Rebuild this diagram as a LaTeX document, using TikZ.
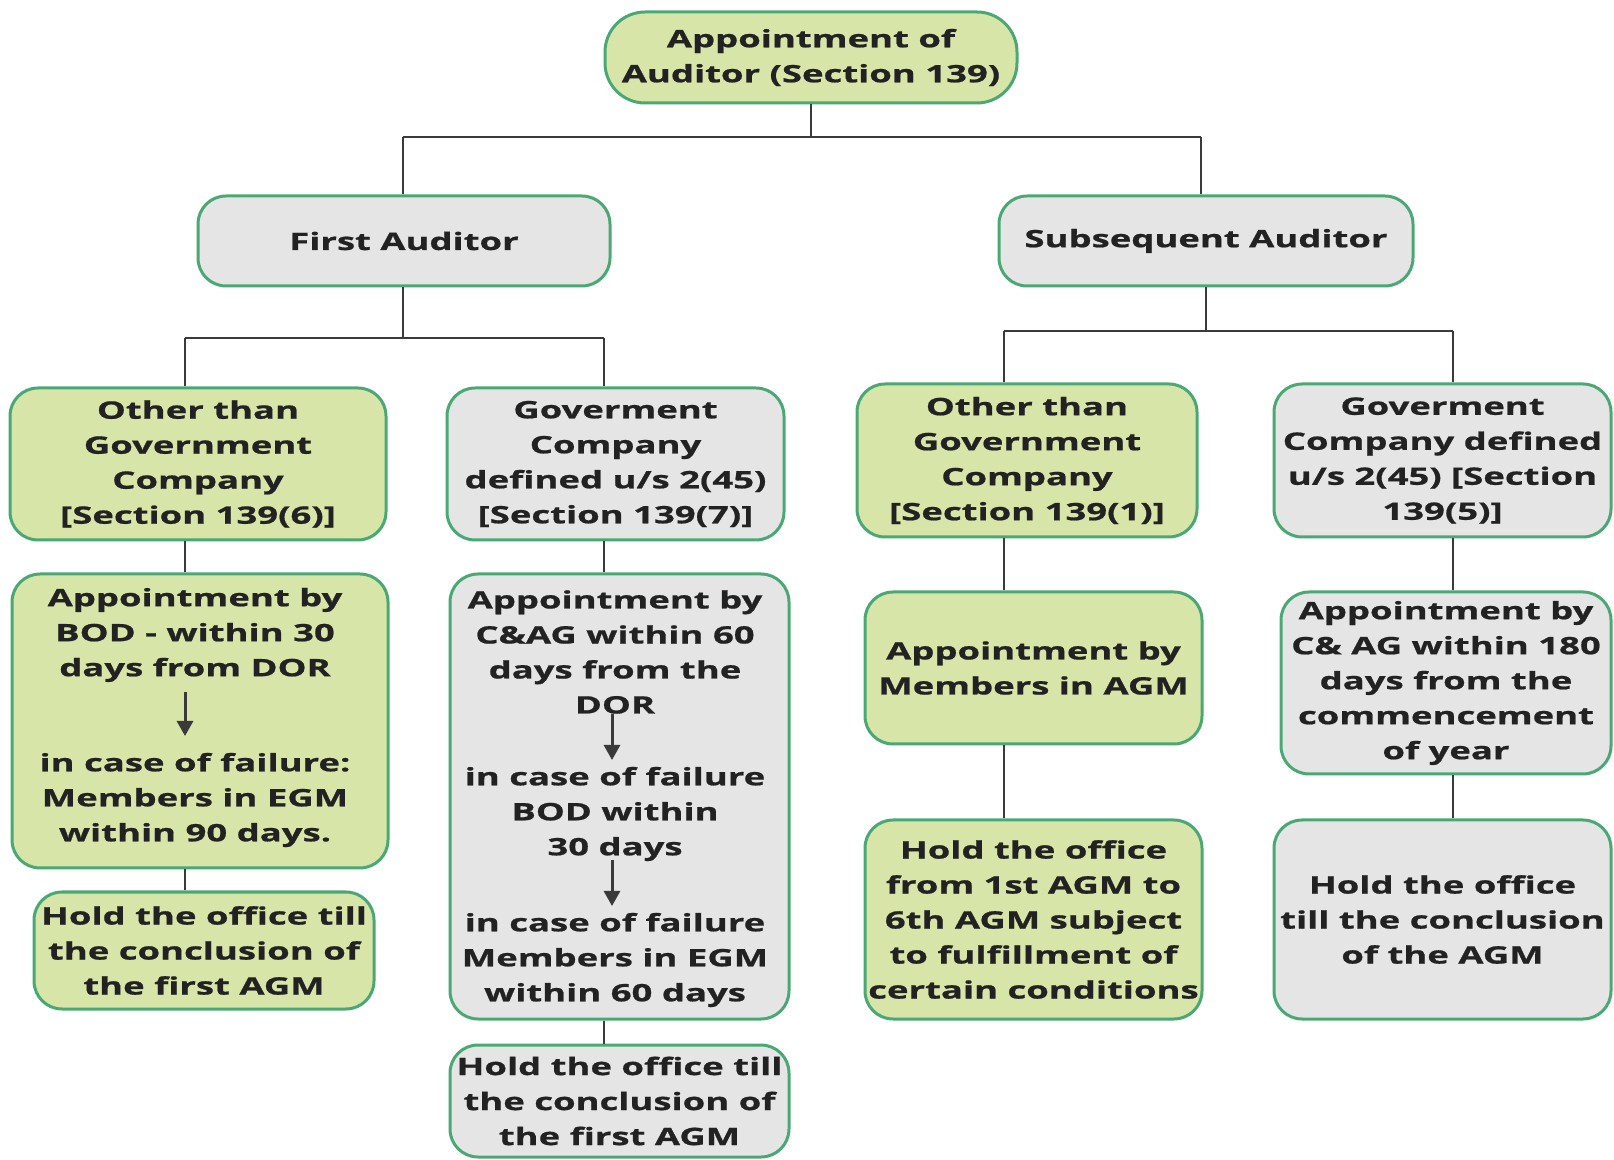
\documentclass[tikz,border=0pt]{standalone}
\usepackage{fontspec}
\setmainfont{Open Sans}[FakeStretch=1.52, BoldFeatures={FakeBold=0.8}]
\usetikzlibrary{arrows.meta}
\definecolor{gfill}{HTML}{D7E5A9}
\definecolor{hfill}{HTML}{E5E5E5}
\definecolor{bord}{HTML}{4AA874}
\definecolor{txt}{HTML}{222222}
\definecolor{lin}{HTML}{3A3A3A}
\begin{document}
\begin{tikzpicture}[x=0.5pt,y=-0.5pt,
 tfont/.style={font=\fontsize{12}{17.5}\selectfont\bfseries},
 box/.style={draw=bord, line width=1.5pt, rounded corners=14pt, inner sep=0pt, align=center, text=txt, tfont},
 gbox/.style={box, fill=gfill},
 hbox/.style={box, fill=hfill},
 txtn/.style={inner sep=0pt, align=center, text=txt, tfont},
 conn/.style={draw=lin, line width=1.4pt},
 arr/.style={draw=lin, line width=1.5pt, -{Triangle[length=7.5pt,width=8pt]}}]
\fill[white] (0,0) rectangle (1614,1160);
\useasboundingbox (0,0) rectangle (1614,1160);

% top
\node[gbox, rounded corners=20pt, minimum width=206pt, minimum height=45.5pt] (top) at (811,57.5) {Appointment of\\Auditor (Section 139)};
\node[hbox, minimum width=206pt, minimum height=45pt] (FA) at (404,241) {First Auditor};
\node[hbox, minimum width=207pt, minimum height=45pt] (SA) at (1206,241) {Subsequent Auditor};

% row 2
\node[gbox, minimum width=188pt, minimum height=76pt] (A) at (198,464) {Other than\\Government\\Company\\{[}Section 139(6)]};
\node[hbox, minimum width=168.5pt, minimum height=76pt] (B) at (615.5,464) {Goverment\\Company\\defined u/s 2(45)\\{[}Section 139(7)]};
\node[gbox, minimum width=170pt, minimum height=76.5pt] (C) at (1027,460.5) {Other than\\Government\\Company\\{[}Section 139(1)]};
\node[hbox, minimum width=168.5pt, minimum height=76.5pt] (D) at (1442.5,460.5) {Goverment\\Company defined\\u/s 2(45) [Section\\139(5)]};

% row 3
\node[gbox, minimum width=188pt, minimum height=147pt] (A2) at (200,721) {};
\node[txtn] (A2a) at (195,635) {Appointment by\\BOD - within 30\\days from DOR};
\node[txtn] (A2b) at (195,800) {in case of failure:\\Members in EGM\\within 90 days.};
\node[hbox, minimum width=169.5pt, minimum height=222.5pt] (B2) at (619.5,796.5) {};
\node[txtn] (B2a) at (615,652) {Appointment by\\C\&AG within 60\\days from the\\DOR};
\node[txtn] (B2b) at (615,814) {in case of failure\\BOD within\\30 days};
\node[txtn] (B2c) at (615,960) {in case of failure\\Members in EGM\\within 60 days};
\node[gbox, minimum width=168.5pt, minimum height=76pt] (C2) at (1033.5,668) {Appointment by\\Members in AGM};
\node[hbox, minimum width=165pt, minimum height=91pt] (D2) at (1446,683) {Appointment by\\C\& AG within 180\\days from the\\commencement\\of year};

% row 4
\node[gbox, minimum width=170pt, minimum height=58.5pt] (A3) at (204,950.5) {Hold the office till\\the conclusion of\\the first AGM};
\node[hbox, minimum width=169.5pt, minimum height=56pt] (B3) at (619.5,1101) {Hold the office till\\the conclusion of\\the first AGM};
\node[gbox, minimum width=168.5pt, minimum height=99.5pt] (C3) at (1033.5,919.5) {Hold the office\\from 1st AGM to\\6th AGM subject\\to fulfillment of\\certain conditions};
\node[hbox, minimum width=168.5pt, minimum height=99.5pt] (D3) at (1442.5,919.5) {Hold the office\\till the conclusion\\of the AGM};

% junctions
\coordinate (j0) at (811,137);
\coordinate (jL) at (403,137);
\coordinate (jR) at (1201,137);
\coordinate (f1) at (185,338);
\coordinate (f2) at (604,338);
\coordinate (s1) at (1004,331);
\coordinate (s2) at (1453,331);

\draw[conn] (top.south) -- (j0);
\draw[conn] (jL) -- (jR);
\draw[conn] (jL) -- (jL |- FA.north);
\draw[conn] (jR) -- (jR |- SA.north);

\draw[conn] (FA.south -| jL) -- (jL |- f1);
\draw[conn] (f1) -- (f2);
\draw[conn] (f1) -- (f1 |- A.north);
\draw[conn] (f2) -- (f2 |- B.north);
\draw[conn] (f1 |- A.south) -- (f1 |- A2.north);
\draw[conn] (f1 |- A2.south) -- (f1 |- A3.north);
\draw[conn] (f2 |- B.south) -- (f2 |- B2.north);
\draw[conn] (f2 |- B2.south) -- (f2 |- B3.north);

\draw[conn] (SA.south) -- (SA.south |- s1);
\draw[conn] (s1) -- (s2);
\draw[conn] (s1) -- (s1 |- C.north);
\draw[conn] (s2) -- (s2 |- D.north);
\draw[conn] (s1 |- C.south) -- (s1 |- C2.north);
\draw[conn] (s1 |- C2.south) -- (s1 |- C3.north);
\draw[conn] (s2 |- D.south) -- (s2 |- D2.north);
\draw[conn] (s2 |- D2.south) -- (s2 |- D3.north);

% inner arrows
\coordinate (aA1) at (185,692);
\coordinate (aA2) at (185,736);
\coordinate (aB1) at (612,714);
\coordinate (aB2) at (612,760);
\coordinate (aB3) at (612,860);
\coordinate (aB4) at (612,906);
\draw[arr] (aA1) -- (aA2);
\draw[arr] (aB1) -- (aB2);
\draw[arr] (aB3) -- (aB4);
\end{tikzpicture}
\end{document}
